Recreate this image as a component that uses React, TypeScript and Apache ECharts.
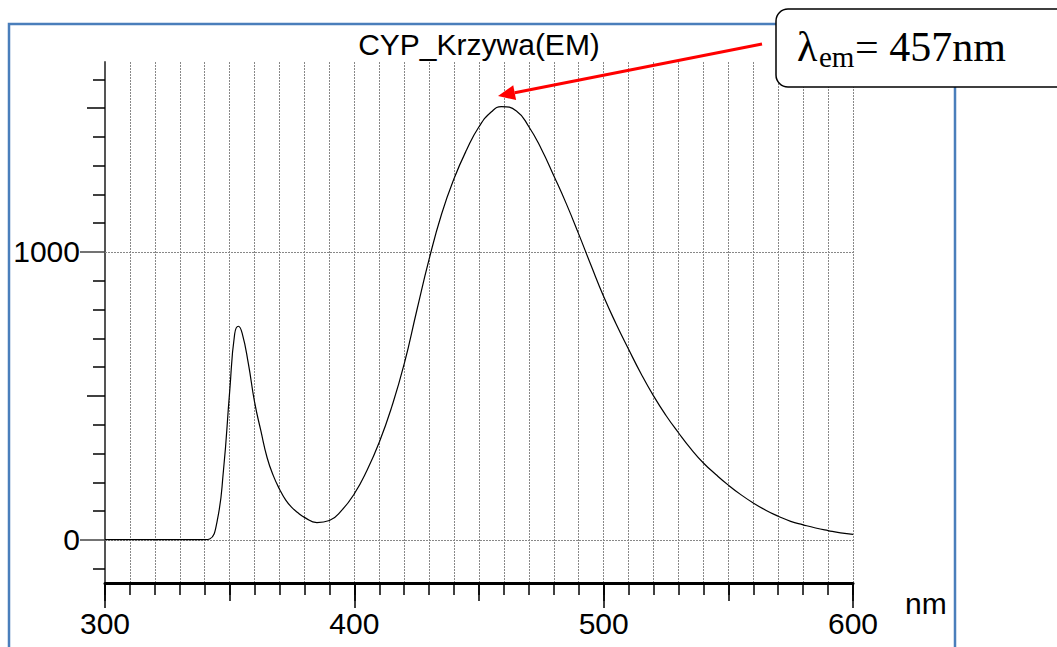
import React, { useEffect, useRef } from "react";
import * as echarts from "echarts";

const title = "CYP_Krzywa(EM)";
const wavelengths = [300, 340, 342, 345, 347.5, 350, 352, 353.5, 355, 357.5, 360, 362.5, 365, 367.5, 370, 372.5, 375, 377.5, 380, 385, 390, 395, 400, 405, 410, 415, 420, 425, 430, 435, 440, 445, 450, 455, 459, 465, 470, 475, 480, 485, 490, 495, 500, 505, 510, 515, 520, 525, 530, 535, 540, 545, 550, 555, 560, 565, 570, 575, 580, 585, 590, 595, 600];
const intensity = [1, 1, 3, 66, 240, 515, 715, 742, 718, 612, 478, 379, 286, 223, 176, 138, 112, 93, 78, 60, 67, 103, 160, 240, 339, 462, 611, 795, 975, 1132, 1255, 1354, 1435, 1487, 1505, 1490, 1435, 1358, 1265, 1168, 1062, 952, 845, 750, 662, 577, 500, 432, 372, 316, 267, 227, 190, 157, 128, 103, 82, 64, 52, 41, 32, 24, 19];
const xLabelTicks = [300, 400, 500, 600];
const yMinorTicks = [-100, 100, 200, 300, 400, 600, 700, 800, 900, 1100, 1200, 1300, 1400, 1600];
const yMidTicks = [500, 1500];
const yMajorTicks = [0, 1000];
const gridLinesY = [0, 1000];
const annotationPeak = "457";

const FONT = "'Liberation Sans', Arial, sans-serif";
const SERIF = "'Liberation Serif', 'Times New Roman', serif";

export default function App() {
  const ref = useRef<HTMLDivElement>(null);
  useEffect(() => {
    document.body.style.margin = "0";
    const chart = echarts.init(ref.current!, null, { renderer: "svg" });
    const data = wavelengths.map((w, i) => [w, intensity[i]]);
    const plain = (v: number) => String(v);
    const yBase = { type: "value", min: -150, max: 1660, position: "left", gridIndex: 0, splitLine: { show: false } };
    const xBase = { type: "value", min: 300, max: 600, position: "bottom", gridIndex: 0 };

    // arrow geometry
    const tip = [498, 96];
    const tail = [762, 44];
    const dx = tail[0] - tip[0], dy = tail[1] - tip[1];
    const len = Math.sqrt(dx * dx + dy * dy);
    const ux = dx / len, uy = dy / len;
    const hl = 17, hw = 7.5;
    const bx = tip[0] + ux * hl, by = tip[1] + uy * hl;
    const px = -uy, py = ux;

    chart.setOption({
      animation: false,
      backgroundColor: "#ffffff",
      title: {
        text: title,
        left: 479,
        top: 29,
        textAlign: "center",
        padding: 0,
        textStyle: { fontFamily: FONT, fontSize: 30, fontWeight: "normal", color: "#000" },
      },
      grid: { left: 105, top: 62, width: 748, height: 521, containLabel: false },
      xAxis: [
        {
          ...xBase,
          interval: 10,
          axisLine: { show: true, onZero: false, lineStyle: { color: "#000", width: 3 } },
          axisTick: { show: true, length: 12, lineStyle: { color: "#000", width: 1.5 } },
          axisLabel: { show: false },
          splitLine: { show: true, lineStyle: { color: "#888", width: 1, type: [2, 1] } },
        },
        {
          ...xBase,
          interval: 50,
          axisLine: { show: false, onZero: false },
          axisTick: { show: true, length: 18, lineStyle: { color: "#000", width: 1.5 } },
          axisLabel: { show: false },
          splitLine: { show: false },
        },
        {
          ...xBase,
          interval: 100,
          axisLine: { show: false, onZero: false },
          axisTick: { show: true, length: 25, lineStyle: { color: "#000", width: 1.5 } },
          axisLabel: {
            show: true,
            margin: 25,
            fontFamily: FONT,
            fontSize: 30,
            color: "#000",
            formatter: plain,
            customValues: xLabelTicks,
          },
          splitLine: { show: false },
        },
      ],
      yAxis: [
        {
          ...yBase,
          axisLine: { show: true, onZero: false, lineStyle: { color: "#555", width: 2 } },
          axisTick: { show: true, length: 12, customValues: yMinorTicks, lineStyle: { color: "#000", width: 1.5 } },
          axisLabel: { show: false },
        },
        {
          ...yBase,
          axisLine: { show: false, onZero: false },
          axisTick: { show: true, length: 18, customValues: yMidTicks, lineStyle: { color: "#000", width: 1.5 } },
          axisLabel: { show: false },
        },
        {
          ...yBase,
          axisLine: { show: false, onZero: false },
          axisTick: { show: true, length: 25, customValues: yMajorTicks, lineStyle: { color: "#444", width: 1.5 } },
          axisLabel: {
            show: true,
            margin: 25,
            fontFamily: FONT,
            fontSize: 30,
            color: "#000",
            formatter: plain,
            customValues: yMajorTicks,
          },
        },
      ],
      series: [
        {
          type: "line",
          name: "EM",
          xAxisIndex: 0,
          yAxisIndex: 0,
          data,
          smooth: 0.5,
          showSymbol: false,
          symbol: "none",
          lineStyle: { color: "#000", width: 1.2 },
          z: 5,
          markLine: {
            silent: true,
            symbol: "none",
            label: { show: false },
            lineStyle: { color: "#888", width: 1, type: [2, 1] },
            data: gridLinesY.map((v) => ({ yAxis: v })),
            z: 1,
          },
        },
      ],
      graphic: [
        {
          type: "rect",
          z: 50,
          shape: { x: 9, y: 24, width: 946, height: 660 },
          style: { fill: "none", stroke: "#4a7ebb", lineWidth: 2.5 },
        },
        {
          type: "text",
          z: 50,
          style: {
            text: "nm",
            x: 905,
            y: 603,
            verticalAlign: "middle",
            fontFamily: FONT,
            fontSize: 30,
            fill: "#000",
          },
        },
        {
          type: "line",
          z: 100,
          shape: { x1: tail[0], y1: tail[1], x2: bx, y2: by },
          style: { stroke: "#ff0000", lineWidth: 3 },
        },
        {
          type: "polygon",
          z: 100,
          shape: {
            points: [
              [tip[0], tip[1]],
              [bx + px * hw, by + py * hw],
              [bx - px * hw, by - py * hw],
            ],
          },
          style: { fill: "#ff0000" },
        },
        {
          type: "rect",
          z: 100,
          shape: { x: 776, y: 9, width: 320, height: 78, r: 12 },
          style: { fill: "#fff", stroke: "#000", lineWidth: 1.5 },
        },
        {
          type: "text",
          z: 101,
          style: { text: "λ", x: 797, y: 47, verticalAlign: "middle", fontFamily: SERIF, fontSize: 42, fill: "#000" },
        },
        {
          type: "text",
          z: 101,
          style: { text: "em", x: 819, y: 57, verticalAlign: "middle", fontFamily: SERIF, fontSize: 29, fill: "#000" },
        },
        {
          type: "text",
          z: 101,
          style: { text: "= " + annotationPeak + "nm", x: 855, y: 47, verticalAlign: "middle", fontFamily: SERIF, fontSize: 42, fill: "#000" },
        },
      ],
    });
    return () => chart.dispose();
  }, []);
  return <div ref={ref} style={{ width: 1057, height: 647 }} />;
}
